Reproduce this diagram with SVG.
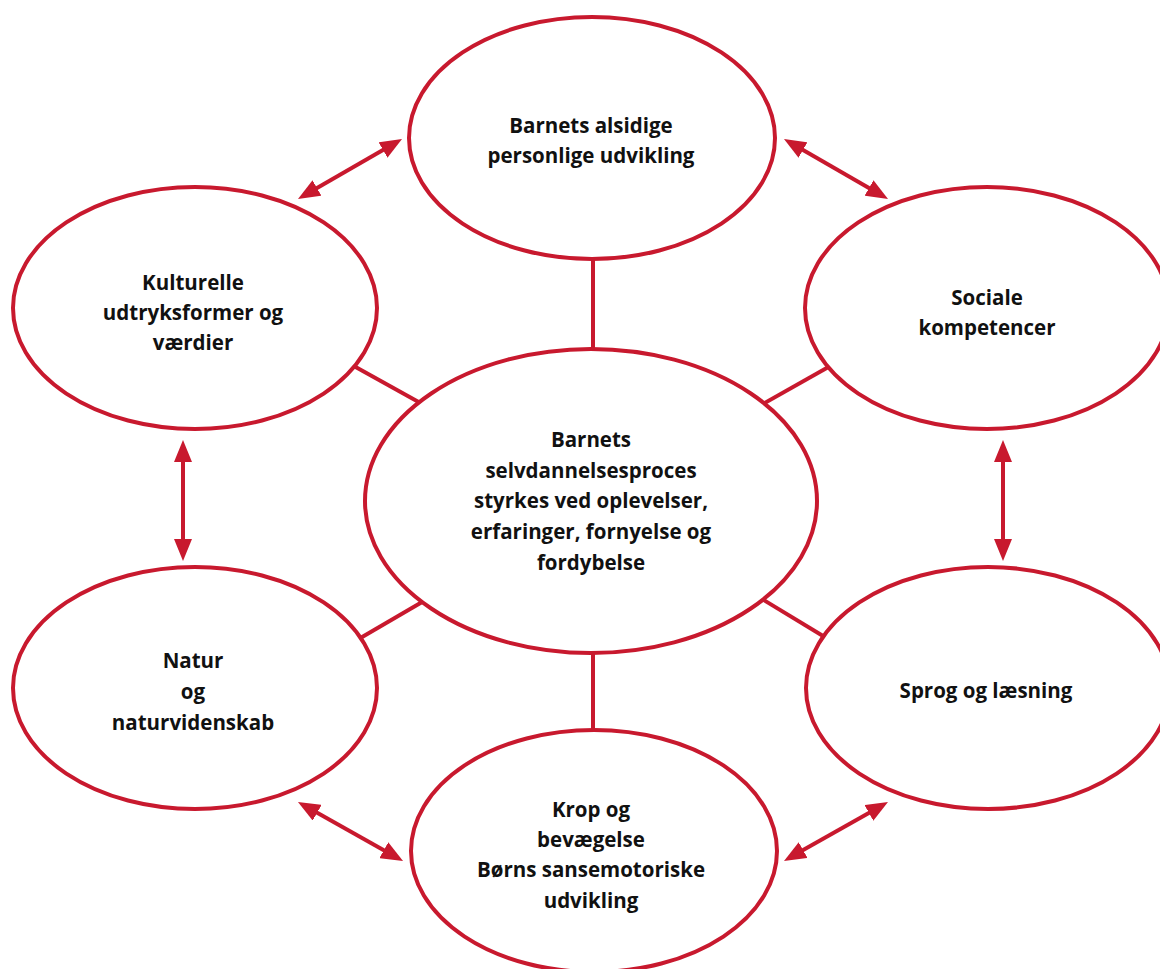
<svg xmlns="http://www.w3.org/2000/svg" width="1160" height="969" viewBox="0 0 1160 969">
<style>
.node ellipse{fill:#fff;stroke:#C8192E;stroke-width:4}
.node text{font-family:"Open Sans",Lato,"Liberation Sans",sans-serif;font-weight:bold;font-size:20.5px;fill:#111;text-anchor:middle}
.conn line{stroke:#C8192E;stroke-width:4;fill:none}
.arr line{stroke:#C8192E;stroke-width:4;marker-start:url(#ah);marker-end:url(#ah)}
</style>
<defs>
<marker id="ah" markerUnits="userSpaceOnUse" markerWidth="22" markerHeight="18" viewBox="0 0 22 18" refX="2" refY="9" orient="auto-start-reverse">
<path d="M0,0 L22,9 L0,18 z" fill="#C8192E"/>
</marker>
</defs>
<rect width="1160" height="969" fill="#fff"/>
<g id="connectors">
<g class="conn">
<line x1="593" y1="250" x2="593" y2="358"/>
<line x1="593" y1="645" x2="593" y2="738"/>
<line x1="352" y1="365" x2="424" y2="405"/>
<line x1="832" y1="365" x2="761" y2="405"/>
<line x1="357" y1="640" x2="429" y2="598"/>
<line x1="828" y1="639" x2="757" y2="596"/>
</g>
<g class="arr">
<line x1="183" y1="460" x2="183" y2="541"/>
<line x1="1003" y1="460" x2="1003" y2="541"/>
<line x1="315.3" y1="189" x2="384.7" y2="149"/>
<line x1="801.3" y1="149" x2="870.7" y2="189"/>
<line x1="315.4" y1="811.8" x2="385.6" y2="851.2"/>
<line x1="870.6" y1="811.9" x2="801.4" y2="851.1"/>
</g>
</g>
<g id="n-top" class="node">
<ellipse cx="592" cy="138" rx="183" ry="121"/>
<text x="591" y="133">Barnets alsidige</text>
<text x="591" y="163">personlige udvikling</text>
</g>
<g id="n-kultur" class="node">
<ellipse cx="195" cy="308" rx="182" ry="121"/>
<text x="193" y="290">Kulturelle</text>
<text x="193" y="320">udtryksformer og</text>
<text x="193" y="350">værdier</text>
</g>
<g id="n-social" class="node">
<ellipse cx="987" cy="308" rx="182" ry="121"/>
<text x="987" y="305">Sociale</text>
<text x="987" y="335">kompetencer</text>
</g>
<g id="n-center" class="node">
<ellipse cx="591" cy="501" rx="226" ry="152"/>
<text x="591" y="447">Barnets</text>
<text x="591" y="478">selvdannelsesproces</text>
<text x="591" y="508">styrkes ved oplevelser,</text>
<text x="591" y="539">erfaringer, fornyelse og</text>
<text x="591" y="570">fordybelse</text>
</g>
<g id="n-natur" class="node">
<ellipse cx="195" cy="688" rx="182" ry="121"/>
<text x="193" y="668">Natur</text>
<text x="193" y="699">og</text>
<text x="193" y="730">naturvidenskab</text>
</g>
<g id="n-sprog" class="node">
<ellipse cx="988" cy="688" rx="182" ry="121"/>
<text x="986" y="698">Sprog og læsning</text>
</g>
<g id="n-krop" class="node">
<ellipse cx="594" cy="851" rx="183" ry="121"/>
<text x="591" y="817">Krop og</text>
<text x="591" y="847">bevægelse</text>
<text x="591" y="877">Børns sansemotoriske</text>
<text x="591" y="908">udvikling</text>
</g>
</svg>
